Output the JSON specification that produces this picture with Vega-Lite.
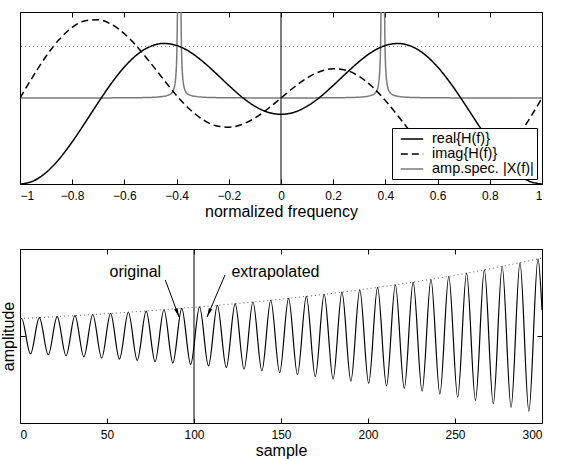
{
 "$schema": "https://vega.github.io/schema/vega-lite/v6.json",
 "background": "white",
 "padding": {"left": 0, "top": 11, "right": 5, "bottom": 0},
 "bounds": "flush",
 "spacing": 65,
 "config": {
  "font": "Liberation Sans",
  "view": {"stroke": "black", "strokeWidth": 1},
  "axis": {"domain": false, "grid": false, "tickColor": "black", "tickSize": -5, "tickWidth": 1, "labelColor": "black", "labelFont": "Liberation Sans", "labelFontSize": 12, "labelPadding": 11, "titleColor": "black", "titleFont": "Liberation Sans", "titleFontSize": 16, "titleFontWeight": "normal", "titlePadding": 2},
  "legend": {"title": null, "symbolType": "M-1.6,0H1.6", "symbolSize": 196, "symbolStrokeWidth": 1.5, "symbolOffset": 9, "labelFont": "Liberation Sans", "labelFontSize": 14.5, "labelColor": "black", "labelOffset": 12, "labelLimit": 200, "strokeColor": "black", "fillColor": "white", "padding": 3, "rowPadding": 0, "cornerRadius": 0}
 },
 "vconcat": [
  {
   "width": 522,
   "height": 172,
   "resolve": {"axis": {"x": "independent"}},
   "layer": [
    {
     "data": {"values": [
      {"f": -1, "s": "amp", "v": 0}, {"f": -0.8, "s": "amp", "v": 0.001}, {"f": -0.64, "s": "amp", "v": 0.0015}, {"f": -0.54, "s": "amp", "v": 0.004}, {"f": -0.49, "s": "amp", "v": 0.008}, {"f": -0.46, "s": "amp", "v": 0.015}, {"f": -0.435, "s": "amp", "v": 0.03}, {"f": -0.42, "s": "amp", "v": 0.055}, {"f": -0.41, "s": "amp", "v": 0.11}, {"f": -0.402, "s": "amp", "v": 0.3}, {"f": -0.398, "s": "amp", "v": 0.7}, {"f": -0.395, "s": "amp", "v": 1.8}, {"f": -0.393, "s": "amp", "v": 3}, {"f": -0.39, "s": "amp", "v": 4}, {"f": -0.387, "s": "amp", "v": 3}, {"f": -0.385, "s": "amp", "v": 1.8}, {"f": -0.382, "s": "amp", "v": 0.7}, {"f": -0.378, "s": "amp", "v": 0.3}, {"f": -0.37, "s": "amp", "v": 0.11}, {"f": -0.36, "s": "amp", "v": 0.055}, {"f": -0.345, "s": "amp", "v": 0.03}, {"f": -0.32, "s": "amp", "v": 0.015}, {"f": -0.29, "s": "amp", "v": 0.008}, {"f": -0.24, "s": "amp", "v": 0.004}, {"f": -0.14, "s": "amp", "v": 0.0015}, {"f": 0, "s": "amp", "v": 0.001},
      {"f": 0.14, "s": "amp", "v": 0.0015}, {"f": 0.24, "s": "amp", "v": 0.004}, {"f": 0.29, "s": "amp", "v": 0.008}, {"f": 0.32, "s": "amp", "v": 0.015}, {"f": 0.345, "s": "amp", "v": 0.03}, {"f": 0.36, "s": "amp", "v": 0.055}, {"f": 0.37, "s": "amp", "v": 0.11}, {"f": 0.378, "s": "amp", "v": 0.3}, {"f": 0.382, "s": "amp", "v": 0.7}, {"f": 0.385, "s": "amp", "v": 1.8}, {"f": 0.387, "s": "amp", "v": 3}, {"f": 0.39, "s": "amp", "v": 4}, {"f": 0.393, "s": "amp", "v": 3}, {"f": 0.395, "s": "amp", "v": 1.8}, {"f": 0.398, "s": "amp", "v": 0.7}, {"f": 0.402, "s": "amp", "v": 0.3}, {"f": 0.41, "s": "amp", "v": 0.11}, {"f": 0.42, "s": "amp", "v": 0.055}, {"f": 0.435, "s": "amp", "v": 0.03}, {"f": 0.46, "s": "amp", "v": 0.015}, {"f": 0.49, "s": "amp", "v": 0.008}, {"f": 0.54, "s": "amp", "v": 0.004}, {"f": 0.64, "s": "amp", "v": 0.0015}, {"f": 0.8, "s": "amp", "v": 0.001}, {"f": 1, "s": "amp", "v": 0}
     ]},
     "mark": {"type": "line", "interpolate": "monotone", "clip": true, "strokeWidth": 1.5},
     "encoding": {
      "x": {"field": "f", "type": "quantitative", "scale": {"domain": [-1, 1], "nice": false, "zero": false}, "axis": null},
      "y": {"field": "v", "type": "quantitative", "scale": {"domain": [-1, 1], "nice": false}, "axis": null},
      "color": {"field": "s", "type": "nominal", "scale": {"domain": ["re", "im", "amp"], "range": ["black", "black", "#7a7a7a"]}, "legend": {"orient": "none", "legendX": 372, "legendY": 116, "labelExpr": "datum.label == 're' ? 'real{H(f)}' : datum.label == 'im' ? 'imag{H(f)}' : 'amp.spec. |X(f)|'"}},
      "strokeDash": {"field": "s", "type": "nominal", "scale": {"domain": ["re", "im", "amp"], "range": [[1, 0], [7, 4], [1, 0]]}, "legend": {"orient": "none", "legendX": 372, "legendY": 116, "labelExpr": "datum.label == 're' ? 'real{H(f)}' : datum.label == 'im' ? 'imag{H(f)}' : 'amp.spec. |X(f)|'"}}
     }
    },
    {
     "data": {"values": [
      {"f": -1, "s": "re", "v": -1.0}, {"f": -0.95, "s": "re", "v": -0.966}, {"f": -0.9, "s": "re", "v": -0.866}, {"f": -0.85, "s": "re", "v": -0.71}, {"f": -0.8, "s": "re", "v": -0.51}, {"f": -0.75, "s": "re", "v": -0.284}, {"f": -0.7, "s": "re", "v": -0.051}, {"f": -0.65, "s": "re", "v": 0.17}, {"f": -0.6, "s": "re", "v": 0.361}, {"f": -0.55, "s": "re", "v": 0.508}, {"f": -0.5, "s": "re", "v": 0.6}, {"f": -0.45, "s": "re", "v": 0.634}, {"f": -0.4, "s": "re", "v": 0.611}, {"f": -0.35, "s": "re", "v": 0.538}, {"f": -0.3, "s": "re", "v": 0.425}, {"f": -0.25, "s": "re", "v": 0.289}, {"f": -0.2, "s": "re", "v": 0.146}, {"f": -0.15, "s": "re", "v": 0.012}, {"f": -0.1, "s": "re", "v": -0.096}, {"f": -0.05, "s": "re", "v": -0.166}, {"f": 0, "s": "re", "v": -0.19},
      {"f": 0.05, "s": "re", "v": -0.166}, {"f": 0.1, "s": "re", "v": -0.096}, {"f": 0.15, "s": "re", "v": 0.012}, {"f": 0.2, "s": "re", "v": 0.146}, {"f": 0.25, "s": "re", "v": 0.289}, {"f": 0.3, "s": "re", "v": 0.425}, {"f": 0.35, "s": "re", "v": 0.538}, {"f": 0.4, "s": "re", "v": 0.611}, {"f": 0.45, "s": "re", "v": 0.634}, {"f": 0.5, "s": "re", "v": 0.6}, {"f": 0.55, "s": "re", "v": 0.508}, {"f": 0.6, "s": "re", "v": 0.361}, {"f": 0.65, "s": "re", "v": 0.17}, {"f": 0.7, "s": "re", "v": -0.051}, {"f": 0.75, "s": "re", "v": -0.284}, {"f": 0.8, "s": "re", "v": -0.51}, {"f": 0.85, "s": "re", "v": -0.71}, {"f": 0.9, "s": "re", "v": -0.866}, {"f": 0.95, "s": "re", "v": -0.966}, {"f": 1, "s": "re", "v": -1.0},
      {"f": -1, "s": "im", "v": 0}, {"f": -0.95, "s": "im", "v": 0.252}, {"f": -0.9, "s": "im", "v": 0.485}, {"f": -0.85, "s": "im", "v": 0.679}, {"f": -0.8, "s": "im", "v": 0.82}, {"f": -0.75, "s": "im", "v": 0.899}, {"f": -0.7, "s": "im", "v": 0.91}, {"f": -0.65, "s": "im", "v": 0.857}, {"f": -0.6, "s": "im", "v": 0.747}, {"f": -0.55, "s": "im", "v": 0.592}, {"f": -0.5, "s": "im", "v": 0.408}, {"f": -0.45, "s": "im", "v": 0.215}, {"f": -0.4, "s": "im", "v": 0.029}, {"f": -0.35, "s": "im", "v": -0.13}, {"f": -0.3, "s": "im", "v": -0.25}, {"f": -0.25, "s": "im", "v": -0.322}, {"f": -0.2, "s": "im", "v": -0.34}, {"f": -0.15, "s": "im", "v": -0.308}, {"f": -0.1, "s": "im", "v": -0.233}, {"f": -0.05, "s": "im", "v": -0.125}, {"f": 0, "s": "im", "v": 0},
      {"f": 0.05, "s": "im", "v": 0.125}, {"f": 0.1, "s": "im", "v": 0.233}, {"f": 0.15, "s": "im", "v": 0.308}, {"f": 0.2, "s": "im", "v": 0.34}, {"f": 0.25, "s": "im", "v": 0.322}, {"f": 0.3, "s": "im", "v": 0.25}, {"f": 0.35, "s": "im", "v": 0.13}, {"f": 0.4, "s": "im", "v": -0.029}, {"f": 0.45, "s": "im", "v": -0.215}, {"f": 0.5, "s": "im", "v": -0.408}, {"f": 0.55, "s": "im", "v": -0.592}, {"f": 0.6, "s": "im", "v": -0.747}, {"f": 0.65, "s": "im", "v": -0.857}, {"f": 0.7, "s": "im", "v": -0.91}, {"f": 0.75, "s": "im", "v": -0.899}, {"f": 0.8, "s": "im", "v": -0.82}, {"f": 0.85, "s": "im", "v": -0.679}, {"f": 0.9, "s": "im", "v": -0.485}, {"f": 0.95, "s": "im", "v": -0.252}, {"f": 1, "s": "im", "v": 0}
     ]},
     "mark": {"type": "line", "interpolate": "monotone", "clip": true, "strokeWidth": 1.5},
     "encoding": {
      "x": {"field": "f", "type": "quantitative", "scale": {"domain": [-1, 1], "nice": false, "zero": false}, "axis": {"orient": "bottom", "values": [-1, -0.8, -0.6, -0.4, -0.2, 0, 0.2, 0.4, 0.6, 0.8, 1], "format": "~g", "title": "normalized frequency"}},
      "y": {"field": "v", "type": "quantitative", "scale": {"domain": [-1, 1], "nice": false}, "axis": null},
      "color": {"field": "s", "type": "nominal", "scale": {"domain": ["re", "im", "amp"], "range": ["black", "black", "#7a7a7a"]}, "legend": {"orient": "none", "legendX": 372, "legendY": 116, "labelExpr": "datum.label == 're' ? 'real{H(f)}' : datum.label == 'im' ? 'imag{H(f)}' : 'amp.spec. |X(f)|'"}},
      "strokeDash": {"field": "s", "type": "nominal", "scale": {"domain": ["re", "im", "amp"], "range": [[1, 0], [7, 4], [1, 0]]}, "legend": {"orient": "none", "legendX": 372, "legendY": 116, "labelExpr": "datum.label == 're' ? 'real{H(f)}' : datum.label == 'im' ? 'imag{H(f)}' : 'amp.spec. |X(f)|'"}}
     }
    },
    {
     "data": {"values": [{"v": 0.6}]},
     "mark": {"type": "rule", "color": "#777777", "strokeWidth": 1, "strokeDash": [1, 3]},
     "encoding": {"y": {"field": "v", "type": "quantitative", "axis": null}}
    },
    {
     "data": {"values": [{"f": 0}]},
     "mark": {"type": "rule", "color": "black", "strokeWidth": 1},
     "encoding": {"x": {"field": "f", "type": "quantitative", "axis": {"orient": "top", "values": [-1, -0.8, -0.6, -0.4, -0.2, 0, 0.2, 0.4, 0.6, 0.8, 1], "labels": false, "title": null}}}
    }
   ]
  },
  {
   "width": 522,
   "height": 174,
   "resolve": {"axis": {"x": "independent", "y": "independent"}},
   "layer": [
    {
     "data": {"values": [
      {"n": 0, "a": 0.19}, {"n": 0.9, "a": 0.201}, {"n": 6.02, "a": -0.206}, {"n": 11.13, "a": 0.211}, {"n": 16.25, "a": -0.217}, {"n": 21.36, "a": 0.223}, {"n": 26.48, "a": -0.228}, {"n": 31.59, "a": 0.234}, {"n": 36.71, "a": -0.24}, {"n": 41.82, "a": 0.247}, {"n": 46.94, "a": -0.253}, {"n": 52.05, "a": 0.259}, {"n": 57.17, "a": -0.266}, {"n": 62.28, "a": 0.273}, {"n": 67.4, "a": -0.28}, {"n": 72.51, "a": 0.287}, {"n": 77.63, "a": -0.295}, {"n": 82.74, "a": 0.302}, {"n": 87.86, "a": -0.31}, {"n": 92.97, "a": 0.318}, {"n": 98.09, "a": -0.327},
      {"n": 103.2, "a": 0.335}, {"n": 108.32, "a": -0.344}, {"n": 113.43, "a": 0.353}, {"n": 118.55, "a": -0.362}, {"n": 123.66, "a": 0.371}, {"n": 128.78, "a": -0.381}, {"n": 133.89, "a": 0.391}, {"n": 139.01, "a": -0.401}, {"n": 144.12, "a": 0.411}, {"n": 149.24, "a": -0.422}, {"n": 154.35, "a": 0.433}, {"n": 159.47, "a": -0.444}, {"n": 164.58, "a": 0.455}, {"n": 169.7, "a": -0.467}, {"n": 174.81, "a": 0.479}, {"n": 179.93, "a": -0.492}, {"n": 185.04, "a": 0.504}, {"n": 190.16, "a": -0.518}, {"n": 195.27, "a": 0.531}, {"n": 200.39, "a": -0.545},
      {"n": 205.5, "a": 0.559}, {"n": 210.62, "a": -0.573}, {"n": 215.73, "a": 0.588}, {"n": 220.85, "a": -0.603}, {"n": 225.96, "a": 0.619}, {"n": 231.08, "a": -0.635}, {"n": 236.19, "a": 0.652}, {"n": 241.31, "a": -0.668}, {"n": 246.42, "a": 0.686}, {"n": 251.54, "a": -0.703}, {"n": 256.65, "a": 0.722}, {"n": 261.77, "a": -0.74}, {"n": 266.88, "a": 0.76}, {"n": 272.0, "a": -0.779}, {"n": 277.11, "a": 0.799}, {"n": 282.23, "a": -0.82}, {"n": 287.34, "a": 0.841}, {"n": 292.46, "a": -0.863}, {"n": 297.7, "a": 0.886}, {"n": 300, "a": 0.3}
     ]},
     "mark": {"type": "line", "interpolate": "monotone", "color": "black", "strokeWidth": 1.2, "clip": true},
     "encoding": {
      "x": {"field": "n", "type": "quantitative", "scale": {"domain": [0, 300], "nice": false}, "axis": {"orient": "bottom", "values": [0, 50, 100, 150, 200, 250, 300], "title": "sample"}},
      "y": {"field": "a", "type": "quantitative", "scale": {"domain": [-1, 1], "nice": false}, "axis": {"orient": "left", "values": [0], "labels": false, "title": "amplitude", "titlePadding": 3}}
     }
    },
    {
     "data": {"values": [{"n": 0, "e": 0.2}, {"n": 50, "e": 0.257}, {"n": 100, "e": 0.33}, {"n": 150, "e": 0.423}, {"n": 200, "e": 0.544}, {"n": 250, "e": 0.698}, {"n": 300, "e": 0.896}]},
     "mark": {"type": "line", "interpolate": "monotone", "color": "#555555", "strokeWidth": 1, "strokeDash": [1, 3]},
     "encoding": {
      "x": {"field": "n", "type": "quantitative", "axis": null},
      "y": {"field": "e", "type": "quantitative", "axis": {"orient": "right", "values": [0], "labels": false, "title": null}}
     }
    },
    {
     "data": {"values": [{"n": 100}]},
     "mark": {"type": "rule", "color": "black", "strokeWidth": 1},
     "encoding": {"x": {"field": "n", "type": "quantitative", "axis": {"orient": "top", "values": [0, 50, 100, 150, 200, 250, 300], "labels": false, "title": null}}}
    },
    {
     "data": {"values": [{"n": 83.5, "a": 0.644, "n2": 91.4, "a2": 0.218}, {"n": 117.8, "a": 0.701, "n2": 107.5, "a2": 0.218}]},
     "mark": {"type": "rule", "color": "black", "strokeWidth": 1},
     "encoding": {
      "x": {"field": "n", "type": "quantitative", "axis": null},
      "y": {"field": "a", "type": "quantitative", "axis": null},
      "x2": {"field": "n2"},
      "y2": {"field": "a2"}
     }
    },
    {
     "data": {"values": [{"n": 90.46, "a": 0.267}]},
     "mark": {"type": "point", "shape": "M0,1L-0.4,-1L0.4,-1Z", "size": 81, "filled": true, "color": "black", "opacity": 1, "angle": -20},
     "encoding": {"x": {"field": "n", "type": "quantitative", "axis": null}, "y": {"field": "a", "type": "quantitative", "axis": null}}
    },
    {
     "data": {"values": [{"n": 108.5, "a": 0.266}]},
     "mark": {"type": "point", "shape": "M0,1L-0.4,-1L0.4,-1Z", "size": 81, "filled": true, "color": "black", "opacity": 1, "angle": 23},
     "encoding": {"x": {"field": "n", "type": "quantitative", "axis": null}, "y": {"field": "a", "type": "quantitative", "axis": null}}
    },
    {
     "data": {"values": [{"n": 66.3, "a": 0.678, "t": "original"}, {"n": 146.8, "a": 0.678, "t": "extrapolated"}]},
     "mark": {"type": "text", "font": "Liberation Sans", "fontSize": 16, "baseline": "alphabetic", "align": "center", "color": "black"},
     "encoding": {
      "x": {"field": "n", "type": "quantitative", "axis": null},
      "y": {"field": "a", "type": "quantitative", "axis": null},
      "text": {"field": "t"}
     }
    }
   ]
  }
 ]
}
